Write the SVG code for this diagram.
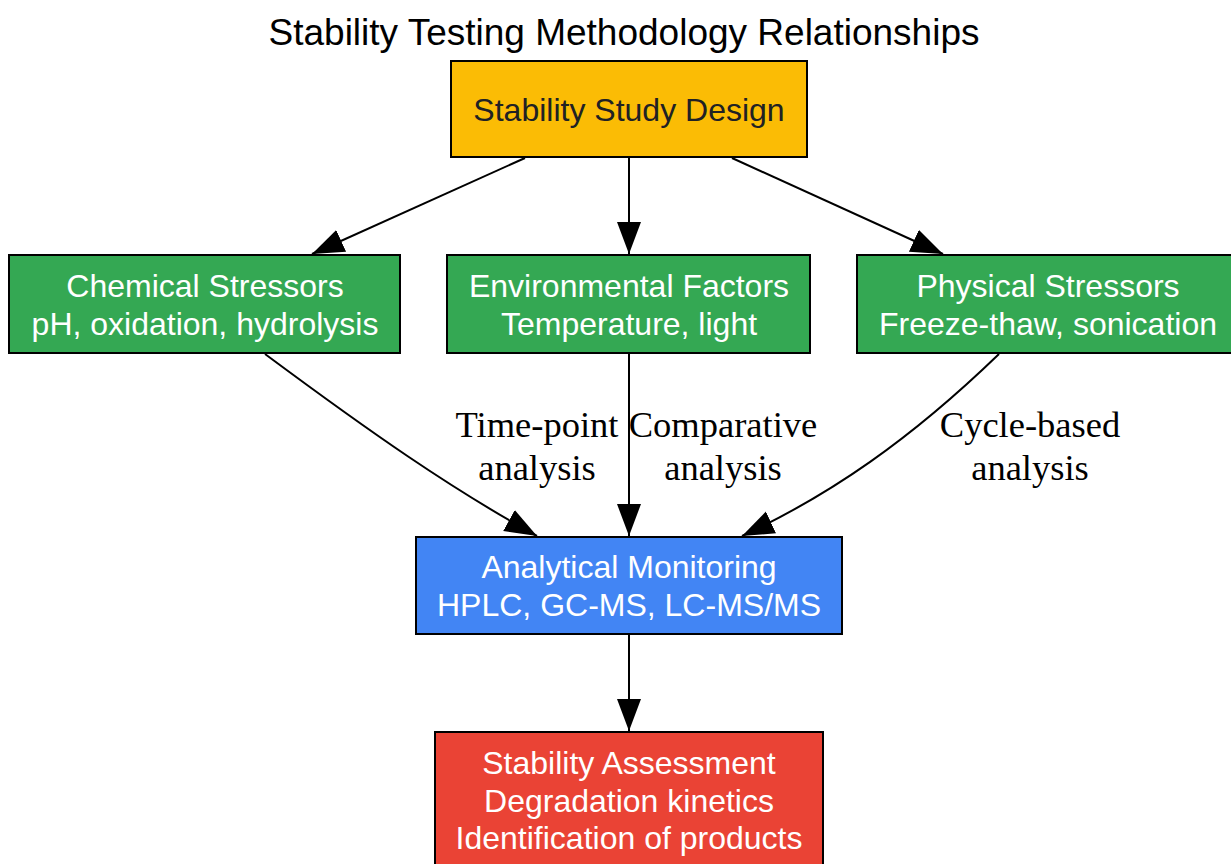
<svg xmlns="http://www.w3.org/2000/svg" width="1231" height="864" viewBox="0 0 1231 864">
<style>
.box{stroke:#000;stroke-width:2}
.t{font-family:"Liberation Sans",Arial,sans-serif;font-size:32px;text-anchor:middle;fill:#fff}
.title{font-family:"Liberation Sans",Arial,sans-serif;font-size:37px;text-anchor:middle;fill:#000}
.lbl{font-family:"Liberation Serif","Times New Roman",serif;font-size:36.5px;text-anchor:middle;fill:#000}
.e{fill:none;stroke:#000;stroke-width:2;marker-end:url(#ah)}
</style>
<defs>
<marker id="ah" markerUnits="userSpaceOnUse" markerWidth="34" markerHeight="26" refX="32" refY="12" orient="auto" viewBox="0 0 34 26">
<path d="M0,0 L32,12 L0,24 z" fill="#000"/>
</marker>
</defs>
<rect width="1231" height="864" fill="#fff"/>
<text class="title" x="624" y="45">Stability Testing Methodology Relationships</text>
<g id="edges">
<path class="e" d="M525,158 L312,254"/>
<path class="e" d="M629,157 L629,254"/>
<path class="e" d="M732,158 L943,254"/>
<path class="e" d="M265,354 C370,432 450,488 537,536"/>
<path class="e" d="M629,354 L629,536"/>
<path class="e" d="M999,354 C910,440 830,495 742,536"/>
<path class="e" d="M629,635 L629,731"/>
<text class="lbl" x="537" y="437">Time-point</text>
<text class="lbl" x="537" y="480">analysis</text>
<text class="lbl" x="723" y="437">Comparative</text>
<text class="lbl" x="723" y="480">analysis</text>
<text class="lbl" x="1030" y="437">Cycle-based</text>
<text class="lbl" x="1030" y="480">analysis</text>
</g>
<g id="design">
<rect class="box" x="451" y="61" width="356" height="96" fill="#FBBC05"/>
<text class="t" x="629" y="121" style="fill:#202124">Stability Study Design</text>
</g>
<g id="chemical">
<rect class="box" x="9" y="255" width="391" height="98" fill="#34A853"/>
<text class="t" x="205" y="297">Chemical Stressors</text>
<text class="t" x="205" y="335">pH, oxidation, hydrolysis</text>
</g>
<g id="environmental">
<rect class="box" x="447" y="255" width="363" height="98" fill="#34A853"/>
<text class="t" x="629" y="297">Environmental Factors</text>
<text class="t" x="629" y="335">Temperature, light</text>
</g>
<g id="physical">
<rect class="box" x="857" y="255" width="376" height="98" fill="#34A853"/>
<text class="t" x="1048" y="297">Physical Stressors</text>
<text class="t" x="1048" y="335">Freeze-thaw, sonication</text>
</g>
<g id="analytical">
<rect class="box" x="416" y="537" width="426" height="97" fill="#4285F4"/>
<text class="t" x="629" y="578">Analytical Monitoring</text>
<text class="t" x="629" y="616">HPLC, GC-MS, LC-MS/MS</text>
</g>
<g id="assessment">
<rect class="box" x="435" y="732" width="388" height="140" fill="#EA4335"/>
<text class="t" x="629" y="774">Stability Assessment</text>
<text class="t" x="629" y="812">Degradation kinetics</text>
<text class="t" x="629" y="849">Identification of products</text>
</g>
</svg>
